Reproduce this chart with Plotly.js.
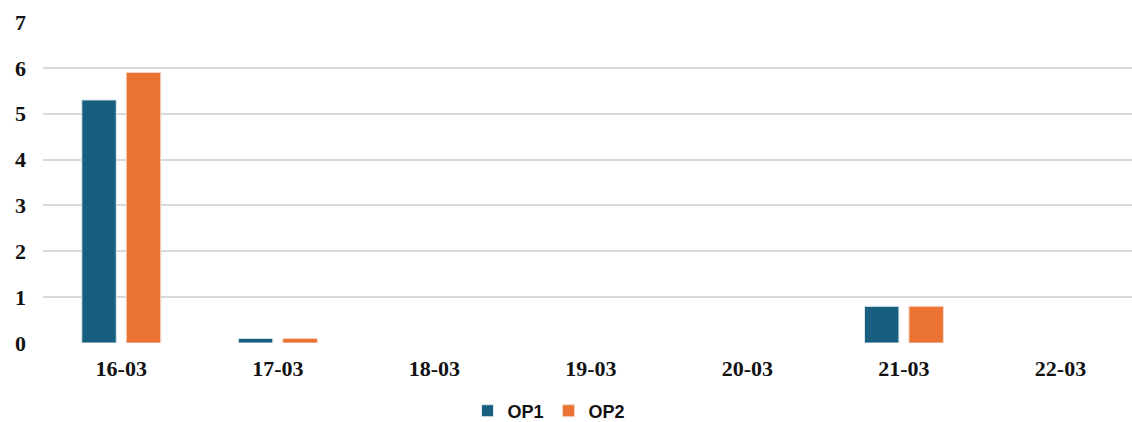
<!DOCTYPE html>
<html>
<head>
<meta charset="utf-8">
<script src="https://cdn.plot.ly/plotly-3.0.1.min.js"></script>
<style>html,body{margin:0;padding:0;background:#fff;}#chart{width:1132px;height:422px;}</style>
</head>
<body>
<div id="chart"></div>
<script>
const categories = ["16-03", "17-03", "18-03", "19-03", "20-03", "21-03", "22-03"];
const op1 = [5.3, 0.1, 0, 0, 0, 0.8, 0];
const op2 = [5.9, 0.1, 0, 0, 0, 0.8, 0];
const seriesNames = ["OP1", "OP2"];
const yTicks = [0, 1, 2, 3, 4, 5, 6, 7];

const edge = vals => vals.map(v => v > 0 ? 1 : 0);

const data = [
  {type: "bar", name: seriesNames[0], x: categories, y: op1,
   marker: {color: "#175e7f", line: {color: "#dfe8ee", width: edge(op1)}}},
  {type: "bar", name: seriesNames[1], x: categories, y: op2,
   marker: {color: "#ea7334", line: {color: "#f6d6c4", width: edge(op2)}}}
];

const serifBold = {family: "Liberation Serif, Times New Roman, serif", size: 22, color: "#111", weight: "bold"};

const layout = {
  width: 1132, height: 422,
  margin: {l: 43, r: 0, t: 22, b: 79, autoexpand: false},
  paper_bgcolor: "#fff", plot_bgcolor: "#fff",
  barmode: "group", bargap: 0.432, bargroupgap: 0.225,
  showlegend: true,
  legend: {orientation: "h", x: 0.485, xanchor: "center", xref: "container",
           y: 0.026, yanchor: "middle", yref: "container",
           font: {family: "Liberation Sans, Arial, sans-serif", size: 18, color: "#111", weight: "bold"},
           itemwidth: 30, traceorder: "normal"},
  xaxis: {type: "category", range: [-0.5, 6.457], showgrid: false, zeroline: false,
          showline: false, ticks: "", ticklen: 0, ticklabelstandoff: 10, automargin: false,
          tickfont: serifBold},
  yaxis: {range: [0, 7], tickvals: yTicks, showgrid: true, gridcolor: "#d9d9d9", gridwidth: 2,
          zeroline: false, showline: false, ticks: "", ticklabelstandoff: 16, automargin: false,
          tickfont: serifBold}
};

Plotly.newPlot("chart", data, layout, {displayModeBar: false, staticPlot: true});
</script>
</body>
</html>
